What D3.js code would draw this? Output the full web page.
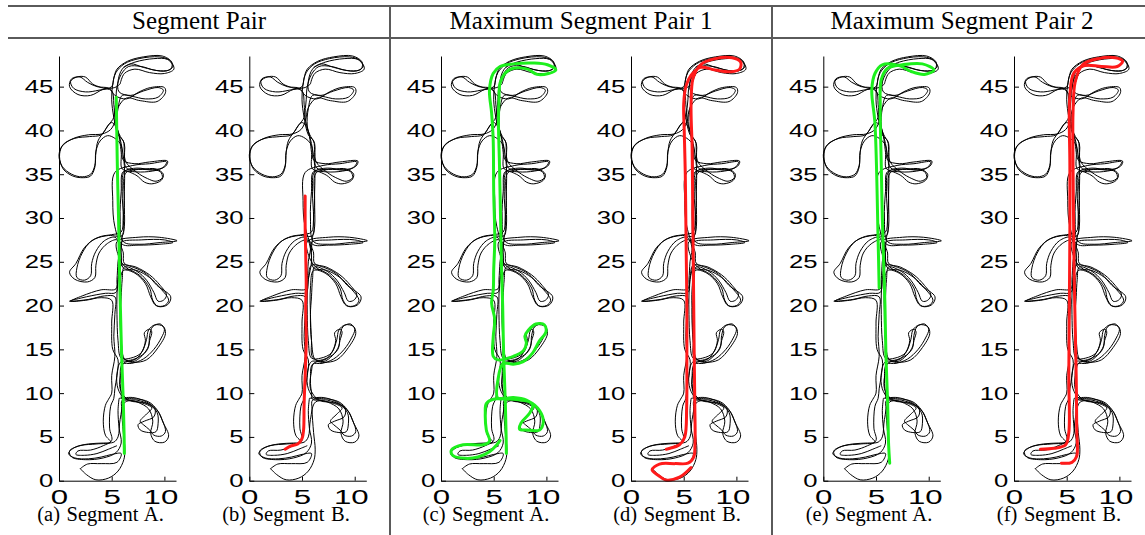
<!DOCTYPE html>
<html>
<head>
<meta charset="utf-8">
<script src="https://cdn.jsdelivr.net/npm/d3@7"></script>
<style>
  html, body { margin: 0; padding: 0; background: #fff; }
  svg { display: block; }
</style>
</head>
<body>
<svg id="fig" width="1145" height="535"></svg>
<script>
// ---------------------------------------------------------------
// Data: robot trajectory laps (x, y in metres) and highlighted segments
// ---------------------------------------------------------------
const groupTitles = ["Segment Pair", "Maximum Segment Pair 1", "Maximum Segment Pair 2"];
const captions = ["(a) Segment A.", "(b) Segment B.", "(c) Segment A.",
                  "(d) Segment B.", "(e) Segment A.", "(f) Segment B."];
const xTicks = [0, 5, 10];
const yTicks = [0, 5, 10, 15, 20, 25, 30, 35, 40, 45];

// First lap: from the start point up the corridor to the top turn
const lapUp1 = [
  [2.0,1.4],[2.6,0.7],[3.5,0.1],[4.7,0.3],[5.6,1.1],[6.15,2.4],[6.25,3.6],[6.1,5.5],[5.95,8.2],[6.0,9.2],
  [7.2,9.35],[8.5,9.0],[9.3,8.1],[9.9,6.6],[10.4,5.1],[10.0,4.4],[9.1,4.5],[8.7,5.4],[8.9,6.8],[8.5,8.2],[7.4,9.0],[6.2,9.4],
  [5.6,10.5],[5.5,12.2],[5.9,13.6],
  [7.1,13.5],[8.3,13.8],[9.4,15.2],[10.1,16.8],[9.9,17.6],[9.1,17.8],[8.5,17.2],[8.3,16.1],[7.8,14.6],[6.8,14.0],[5.9,14.0],
  [5.6,16],[5.5,19],[5.5,21.2],[5.6,23],[5.9,24.6],
  [7.2,24.3],[8.3,23.6],[9.3,22.3],[10.6,21.0],[10.3,20.1],[9.4,19.9],[8.9,20.6],[8.6,22.0],[7.6,23.5],[6.3,24.4],
  [5.7,25.5],[5.5,27.3],
  [7.5,27.8],[9.5,27.8],[11.2,27.4],[9.6,27.2],[7.6,27.0],[6.1,27.3],
  [5.8,30],[5.9,33],[6.1,35.3],
  [7.3,34.9],[8.1,34.1],[8.8,33.9],[9.7,34.3],[9.9,35.0],[9.2,35.6],[7.9,35.6],[6.4,35.7],
  [6.2,37.5],[6.1,38.8],[5.6,39.5],[5.2,41.5],[5.0,43.5],[5.1,45.3],[5.4,46.6],[6.2,47.6],[7.6,48.2],[9.5,48.4],
  [10.5,48.0],[10.9,47.0],[10.0,46.5],[8.6,46.6],[7.2,47.0],[6.2,46.5],[5.8,45.3]
];

// First return: top back down to the bottom-left turn
const lapDown1 = [
  [5.8,45.3],[5.3,44.9],
  [4.2,44.7],[3.0,44.0],[1.8,44.1],[1.0,45.0],[1.2,45.9],[2.0,46.1],[2.7,45.5],[3.6,45.0],[4.8,44.8],
  [5.3,44.0],
  [6.4,43.6],[7.6,44.4],[8.7,44.9],[10.0,44.9],[10.1,44.3],[9.3,43.3],[7.7,43.4],[6.4,43.7],
  [5.6,42.6],[5.3,41.0],[4.9,40.1],
  [4.1,39.6],[2.8,39.5],[1.4,39.1],[0.3,38.2],[0.05,37.0],[0.4,35.6],[1.3,34.8],[2.3,34.6],[3.0,34.8],[3.4,35.8],
  [3.5,37.6],[3.9,38.8],[4.6,39.4],[5.3,39.1],[5.9,38.3],[6.1,36.6],
  [7.2,36.2],[8.6,36.4],[10.3,36.5],[10.1,35.9],[8.9,35.5],[7.4,35.7],[6.2,35.3],
  [6.0,33],[6.1,30],[6.0,28.0],
  [4.7,28.0],[3.4,27.6],[2.4,26.6],[1.6,24.8],[1.0,23.8],[1.5,23.0],[2.7,22.7],[3.4,23.2],[3.5,24.6],[3.8,26.0],[4.6,27.1],[5.5,27.5],
  [5.8,26.5],[5.9,25],[5.6,23],[5.4,21.5],
  [4.4,21.4],[2.6,21.0],[1.0,20.5],[2.8,20.7],[4.3,21.1],[5.3,21.0],
  [5.3,19],[5.2,16.5],[5.3,14.2],[5.0,12],[5.0,10],[4.7,9.3],[4.4,8.6],[4.2,6.8],[4.4,5.2],[4.9,4.4],
  [3.6,4.2],[2.0,4.0],[1.0,3.4],[1.2,2.7],[2.5,2.4],[4.2,2.6],[5.4,3.2],[5.9,4.3],
  [5.7,6],[5.6,8],[5.7,9.4]
];

// Second lap: up and down again through the inner side loops
const lapUp2 = [
  [5.7,9.4],
  [7.0,9.5],[8.3,9.0],[9.1,8.2],[9.0,7.3],[8.1,6.8],[7.5,6.4],[7.7,5.8],[8.5,5.5],[9.2,5.6],[9.4,6.5],[9.3,7.8],[8.4,8.8],[6.6,9.2],
  [5.8,10.5],[5.9,12.5],[6.1,13.4],
  [7.3,13.9],[7.9,14.8],[8.2,16.0],[8.1,16.9],[8.6,17.3],[8.8,17.0],[8.6,16.0],[8.4,15.0],[7.7,14.2],[6.3,13.8],
  [5.9,16],[5.8,19],[5.9,21.0],[6.0,23],[6.2,24.4],
  [7.4,23.9],[8.3,22.9],[9.0,21.5],[9.4,20.5],[9.9,20.6],[10.2,21.2],[9.6,22.3],[8.6,23.5],[7.3,24.4],[6.2,24.8],
  [6.1,26],[5.9,27.2],
  [7.8,27.5],[10.0,27.5],[10.8,27.2],[9.5,27.0],[7.5,26.9],[6.0,27.0],
  [5.3,29],[5.1,32],[5.3,35.2],
  [7.0,36.0],[8.6,36.2],[10.2,36.4],[9.8,35.7],[8.5,35.3],[7.0,35.3],[6.0,35.6],
  [5.9,37.5],[5.5,40.2],[5.0,40.9],
  [4.3,39.9],[3.7,38.8],[3.5,37.5],[3.4,36.0],[3.0,35.0],[2.2,34.7],[1.2,35.0],[0.3,35.9],[0.0,37.2],[0.4,38.4],
  [1.5,39.1],[2.9,39.3],[4.0,39.5],[4.6,40.5],[5.2,41.5],
  [5.2,43],[5.0,44.5],
  [4.0,44.9],[3.2,45.3],[2.5,46.1],[1.7,46.1],[1.1,45.6],[1.4,44.8],[2.5,44.4],[3.8,44.6],[5.0,45.0],
  [5.2,46.0],[5.5,47.0],[6.5,47.9],[8.0,48.4],[9.8,48.5],[10.7,47.8],[10.6,47.0],[9.6,46.8],[8.0,47.2],[6.8,47.6],[6.0,47.0],[5.6,45.6],
  [5.7,44.4],
  [6.8,44.0],[8.0,44.5],[9.4,44.9],[9.9,44.6],[9.4,43.8],[8.2,43.6],[6.9,43.9],[6.0,44.0],
  [5.6,42.5],[5.5,40.5],[5.9,38.5],[6.2,36.0],[6.2,33.0],[6.1,30],[5.9,28.4],
  [5.0,28.1],[4.0,27.9],[3.0,27.3],[2.2,26.0],[1.7,24.3],[1.7,23.2],[2.4,22.9],[3.0,23.4],[3.1,24.8],[3.5,26.2],[4.3,27.4],[5.3,27.8],
  [5.8,27.0],[5.6,25],[5.5,23],[5.4,21.9],
  [4.0,21.8],[2.2,21.1],[1.1,20.5],[2.5,20.6],[4.0,20.9],[5.0,20.6],
  [5.0,18],[5.1,15],[5.6,13.8],[5.5,12],[5.3,10.5],[5.2,9.4],[4.9,8.5],[4.8,6],[5.0,4.6],
  [4.2,4.0],[3.0,3.5],[1.8,3.4],[1.6,3.0],[2.4,2.9],[3.6,3.1],[4.7,3.6],[5.5,4.0]
];

// Last lap: a final pass down from the top, ending at the start area
const lapDown2 = [
  [6.1,47.2],[7.2,47.8],[9.0,48.2],[10.3,48.1],[10.8,47.3],[10.2,46.8],[9.0,46.9],[7.8,47.3],[6.6,47.3],[5.9,46.4],
  [5.5,45],[5.4,43.5],[5.3,41.5],[5.7,39.6],[6.2,38.5],[6.3,36.5],
  [7.4,35.2],[8.4,34.5],[9.2,34.2],[9.8,34.6],[9.6,35.3],[8.6,35.5],[7.2,35.5],[6.3,35.1],
  [6.2,32],[6.2,29],[6.0,27.8],[5.9,25.5],[6.1,24.3],
  [7.4,24.0],[8.6,23.2],[9.6,22.0],[10.4,20.6],[10.0,20.0],[9.2,20.0],[8.7,21.0],[8.2,22.5],[7.2,23.7],[6.1,24.0],
  [5.8,22],[5.8,19],[5.9,16],[6.0,14.1],
  [7.0,13.6],[7.9,14.3],[8.5,15.4],[8.6,16.6],[8.9,17.6],[9.6,17.9],[10.0,17.3],[9.7,16.3],[9.0,15.0],[8.0,13.9],[6.9,13.4],[6.0,13.3],
  [5.8,11.5],[5.9,10],[6.0,9.3],
  [7.4,9.2],[8.6,8.7],[9.4,7.9],[9.8,6.9],[10.1,5.6],[9.7,5.1],[9.0,5.2],[8.6,5.8],[8.0,6.4],[7.7,6.8],[8.3,7.6],[8.8,8.3],[7.8,8.9],[6.3,9.0],
  [5.8,7],[5.6,5],[5.2,4.4],
  [4.2,4.3],[2.8,4.2],[1.5,3.8],[0.9,3.1],[1.5,2.6],[2.8,2.5],[4.0,2.7],[5.0,3.0],[5.9,3.1],
  [5.5,2.1],[4.0,1.95],[2.7,1.9],[2.0,1.35]
];

// Highlighted segments, one per panel
const segPairA = [[6.2,3.1],[6.18,5],[6.1,9],[5.95,14],[5.82,20],[5.74,24],[5.65,30],[5.55,35],[5.48,40],[5.43,43.8]];
const segPairB = [[3.4,3.6],[3.9,3.95],[4.6,4.2],[5.0,4.8],[5.15,5.8],[5.2,8.8],[5.3,12],[5.4,16],[5.35,20],
                  [5.4,22],[5.35,26],[5.3,29],[5.3,32.5]];
const segMax1A = [
  [6.2,3.1],[6.18,5],[6.1,9],[5.95,14],[5.85,20],[5.75,24],[5.65,30],[5.55,36],[5.45,41],[5.5,43.5],[5.6,45.4],
  [6.05,46.5],[6.85,47.1],[8.2,47.0],[9.1,46.4],[10.2,46.5],[10.9,46.9],[10.1,47.5],[8.8,47.7],[6.85,47.6],[5.6,47.3],
  [4.95,46.5],[4.6,44.6],[4.8,42],[4.95,39],[5.0,33],[5.1,27.5],[5.0,24.1],[4.96,21.8],[4.8,20.3],[5.1,18.4],
  [4.96,16.5],[4.96,14.2],[5.4,13.8],[6.86,14.2],[7.8,14.8],[8.1,15.7],[7.96,16.5],[8.3,17.2],[9.0,17.9],[9.8,17.8],
  [9.96,17.0],[9.3,15.9],[8.7,14.6],[7.8,13.6],[6.86,13.3],[5.9,13.4],[5.4,11.5],[5.4,9.4],[6.86,9.5],[8.1,9.2],
  [8.7,8.6],[8.4,7.7],[7.6,6.6],[7.45,5.9],[8.1,5.8],[9.35,5.8],[9.7,6.7],[9.35,8.0],[8.4,9.0],[6.86,9.3],[4.96,9.3],
  [4.3,8.8],[4.2,7.7],[4.3,5.8],[4.6,4.5],[4.0,4.1],[2.1,4.1],[1.0,3.5],[1.1,2.9],[2.3,2.55],[3.5,2.7],[4.6,3.3],
  [5.3,4.1],[5.6,4.6]
];
const segMax1B = [
  [5.7,1.5],[4.6,0.4],[3.3,0.08],[2.6,0.6],[2.0,1.25],[2.7,1.9],[4.2,1.95],[5.4,2.0],[5.95,2.7],[6.07,4],[6.05,9],
  [6.0,14],[5.95,20],[5.9,26],[5.85,32],[5.8,38],[5.7,43],[5.9,46],[6.6,47.5],[8.0,48.2],[9.6,48.3],[10.4,47.8],
  [10.3,47.0],[9.5,46.7],[8.0,46.9],[6.6,47.2],[5.7,46.3],[5.2,45],[5.0,43],[5.05,40],[5.15,35],[5.2,30],[5.25,25],
  [5.3,20],[5.3,14],[5.28,8.4],[5.1,5.0],[4.6,4.1],[3.7,3.7],[3.35,3.6]
];
const segMax2A = [
  [6.3,2.0],[6.2,4],[6.1,9],[5.95,14],[5.85,20],[5.75,24],[5.6,30],[5.5,36],[5.4,42.7],[5.5,45.8],[6.1,47.1],
  [7.5,47.5],[9.4,47.6],[10.5,46.9],[9.6,46.4],[8.4,46.7],[7.2,47.4],[5.6,47.5],[4.9,46.5],[4.6,44.6],[4.9,40.8],
  [5.2,27.5],[5.3,22]
];
const segMax2B = [
  [4.5,2.0],[5.5,2.1],[5.94,2.75],[5.95,6],[5.9,12],[5.8,18],[5.7,24],[5.65,30],[5.6,36],[5.6,42],[5.8,45.5],
  [6.5,47.5],[8.0,48.2],[9.6,48.3],[10.3,47.9],[9.8,47.3],[8.3,47.3],[6.7,47.4],[5.7,46.6],[5.3,44],[5.3,36],
  [5.3,28],[5.25,20],[5.2,12],[5.2,5.5],[4.9,4.1],[3.8,3.7],[2.5,3.6]
];

const laps = [lapUp1, lapDown1, lapUp2, lapDown2];
const highlights = [segPairA, segPairB, segMax1A, segMax1B, segMax2A, segMax2B];
const segColors = ["#1df01d", "#ff1a1a", "#1df01d", "#ff1a1a", "#1df01d", "#ff1a1a"];

// ---------------------------------------------------------------
// Layout
// ---------------------------------------------------------------
const svg = d3.select("#fig");
svg.append("rect").attr("width", 1145).attr("height", 535).attr("fill", "#fff");

const panelLeft = [59, 249.3, 441, 631, 823.3, 1014];
const captionCenter = [100.5, 286, 486, 677, 869, 1059];
const plotWidth = 117;       // pixel length of the x axis
const yBottom = 480.7, yTop = 56;

const y = d3.scaleLinear().domain([0, 48.5]).range([yBottom, yTop]);

// Header rules and group dividers
const frame = svg.append("g").attr("stroke", "#5a5a5a").attr("stroke-width", 2).attr("fill", "none");
frame.append("line").attr("x1", 8).attr("x2", 1145).attr("y1", 6).attr("y2", 6);
frame.append("line").attr("x1", 8).attr("x2", 1145).attr("y1", 38).attr("y2", 38);
[390, 772].forEach(xv => frame.append("line").attr("x1", xv).attr("x2", xv).attr("y1", 6).attr("y2", 535));

const titleCenter = [199, 581, 962];
svg.selectAll("text.title").data(groupTitles).join("text")
  .attr("class", "title")
  .attr("x", (d, i) => titleCenter[i]).attr("y", 29)
  .attr("text-anchor", "middle")
  .style("font-family", "'Liberation Serif', 'Times New Roman', serif")
  .style("font-size", "25px")
  .attr("fill", "#000")
  .text(d => d);

const line = d3.line().curve(d3.curveCatmullRom.alpha(0.5));

panelLeft.forEach((left, i) => {
  const x = d3.scaleLinear().domain([0, 11.1]).range([left, left + plotWidth]);
  line.x(d => x(d[0])).y(d => y(d[1]));
  const g = svg.append("g");

  // trajectory laps
  g.append("g").selectAll("path").data(laps).join("path")
    .attr("d", line)
    .attr("fill", "none").attr("stroke", "#000").attr("stroke-width", 1)
    .attr("stroke-linejoin", "round");

  // highlighted segment
  g.append("path").datum(highlights[i])
    .attr("d", line)
    .attr("fill", "none").attr("stroke", segColors[i]).attr("stroke-width", 3)
    .attr("stroke-linejoin", "round").attr("stroke-linecap", "round");

  // axes
  const yAxis = g.append("g").attr("transform", `translate(${left},0)`)
    .call(d3.axisLeft(y).tickValues(yTicks).tickSizeInner(-5).tickSizeOuter(0));
  const xAxis = g.append("g").attr("transform", `translate(0,${yBottom})`)
    .call(d3.axisBottom(x).tickValues(xTicks).tickSizeInner(-4).tickSizeOuter(0));

  [yAxis, xAxis].forEach(ax => {
    ax.select(".domain").attr("stroke", "#000").attr("stroke-width", 1);
    ax.selectAll(".tick line").attr("stroke", "#000").attr("stroke-width", 1);
    ax.selectAll("text")
      .style("font-family", "'Liberation Sans', Arial, Helvetica, sans-serif")
      .attr("fill", "#000");
  });
  yAxis.selectAll("text").style("font-size", "18.6px")
    .attr("x", -5.7 / 1.38).attr("transform", "scale(1.38,1)");
  xAxis.selectAll("text").attr("y", 9).style("font-size", "19.5px").attr("transform", "scale(1.6,1)")
    .attr("dx", d => d === 10 ? -2.5 : 0);

  // sub-caption
  svg.append("text")
    .attr("x", captionCenter[i]).attr("y", 520.5)
    .attr("text-anchor", "middle")
    .style("font-family", "'Liberation Serif', 'Times New Roman', serif")
    .style("font-size", "20.5px")
    .style("word-spacing", "1.5px")
    .attr("fill", "#000")
    .text(captions[i]);
});
</script>
</body>
</html>
